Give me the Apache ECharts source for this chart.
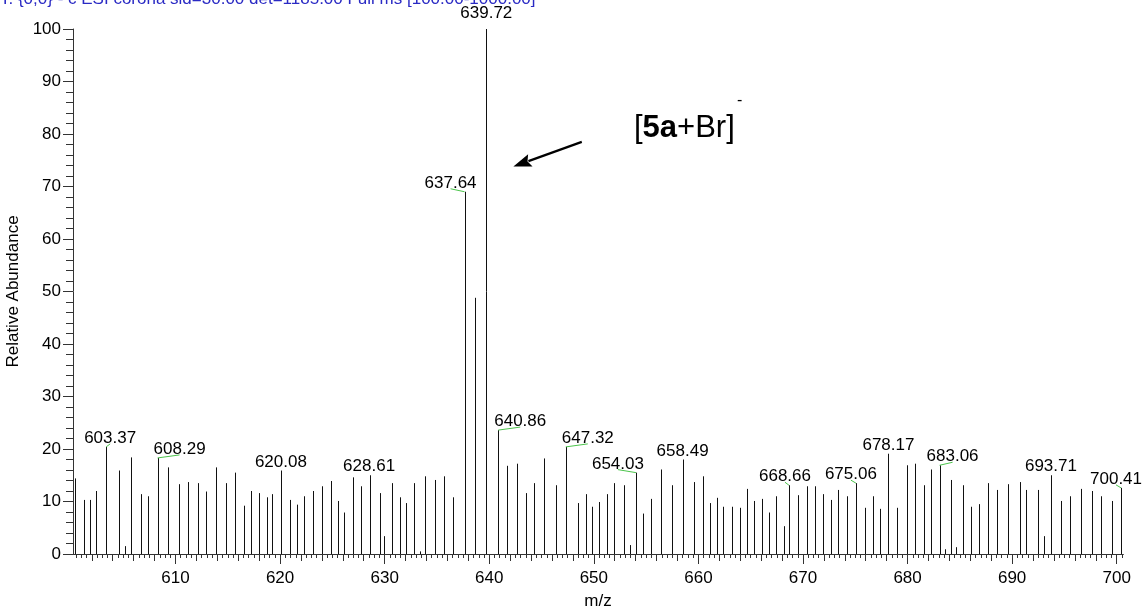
<!DOCTYPE html>
<html>
<head>
<meta charset="utf-8">
<script src="https://cdn.jsdelivr.net/npm/echarts@6/dist/echarts.min.js"></script>
<style>
  html, body { margin: 0; padding: 0; background: #fff; }
  #chart { width: 1143px; height: 607px; }
</style>
</head>
<body>
<div id="chart"></div>
<script>
// Peak centroids (m/z) and their relative abundance (%)
const mz = [
  600.35, 601.21, 601.78, 602.41, 603.37, 604.59, 605.13, 605.73, 606.72, 607.39,
  608.29, 609.30, 610.30, 611.19, 612.11, 612.88, 613.84, 614.79, 615.68, 616.52,
  617.21, 617.95, 618.72, 619.25, 620.08, 620.97, 621.61, 622.28, 623.15, 624.01,
  624.84, 625.51, 626.14, 626.94, 627.71, 628.61, 629.53, 629.94, 630.70, 631.47,
  632.01, 632.84, 633.41, 633.83, 634.82, 635.68, 636.54, 637.64, 638.67, 639.72,
  640.86, 641.68, 642.66, 643.52, 644.29, 645.27, 646.36, 647.32, 648.50, 649.29,
  649.81, 650.48, 651.24, 651.97, 652.93, 653.47, 654.03, 654.74, 655.45, 656.41,
  657.46, 658.49, 659.62, 660.48, 661.12, 661.79, 662.34, 663.20, 663.97, 664.69,
  665.33, 666.10, 666.77, 667.41, 668.17, 668.66, 669.57, 670.43, 671.17, 671.93,
  672.70, 673.34, 674.20, 675.06, 675.95, 676.69, 677.36, 678.17, 678.95, 679.94,
  680.67, 681.53, 682.20, 683.06, 683.58, 684.11, 684.66, 685.33, 686.06, 686.83,
  687.69, 688.55, 689.63, 690.71, 691.35, 692.44, 693.08, 693.71, 694.70, 695.56,
  696.62, 697.60, 698.50, 699.55, 700.41
];
const abundance = [
  14.4, 10.3, 10.3, 12.0, 20.4, 15.9, 1.5, 18.4, 11.4, 11.0,
  18.3, 16.5, 13.3, 13.7, 13.5, 11.9, 16.5, 13.5, 15.5, 9.2,
  12.0, 11.6, 10.8, 11.4, 15.9, 10.3, 9.4, 11.0, 12.0, 12.9,
  13.9, 10.1, 7.9, 14.6, 12.9, 15.0, 11.6, 3.4, 13.5, 10.8,
  9.7, 13.5, 0.5, 14.8, 14.1, 14.8, 10.8, 69.0, 48.8, 100.0,
  23.6, 16.8, 17.2, 11.6, 13.5, 18.2, 13.1, 20.4, 9.7, 11.4,
  9.0, 9.9, 11.4, 13.5, 13.1, 1.7, 15.5, 7.7, 10.5, 16.1,
  13.1, 18.0, 13.7, 14.8, 9.7, 10.7, 9.0, 9.0, 8.8, 12.4,
  10.1, 10.5, 7.9, 11.0, 5.3, 13.1, 11.2, 12.9, 12.9, 11.4,
  10.3, 12.2, 11.0, 13.5, 8.8, 11.0, 8.6, 19.1, 8.8, 16.9,
  17.2, 13.1, 16.1, 16.9, 0.9, 14.1, 1.3, 13.1, 9.0, 9.5,
  13.5, 12.2, 13.3, 13.7, 12.2, 12.2, 3.4, 15.0, 10.1, 11.0,
  12.4, 12.0, 11.0, 10.1, 12.6
];
// Peaks that carry an m/z annotation
const labelledPeaks = [
  603.37, 608.29, 620.08, 628.61, 637.64, 639.72, 640.86, 647.32,
  654.03, 658.49, 668.66, 675.06, 678.17, 683.06, 693.71, 700.41
];
// Axis ticks
const mzTicks = [610, 620, 630, 640, 650, 660, 670, 680, 690, 700];
const abundanceTicks = [0, 10, 20, 30, 40, 50, 60, 70, 80, 90, 100];

const headerText = 'T: {0;0} - c ESI corona sid=30.00 det=1185.00 Full ms [100.00-1000.00]';
const axisMin = 600.2, axisMax = 700.6;

// Layout of the peak annotations: shift (px) of each label from the top of its stick
const labelShift = {
  603.37: [4, 0], 608.29: [22, 0], 628.61: [-1, 0], 637.64: [-14, 0],
  639.72: [0, -7], 640.86: [22, 0], 647.32: [22, 0], 654.03: [-18, 0],
  668.66: [-4, 0], 675.06: [-5, 0], 683.06: [13, 0], 700.41: [-5, 0]
};

const FONT = '"Liberation Sans", Arial, sans-serif';
const AX = '#333';

const midTicks = [];
for (let v = 602; v <= 700; v += 2) if (v % 10 !== 0) midTicks.push(v);
const fineTicks = [];
for (let v = 600.5; v <= 700.5; v += 0.5) if (v % 2 !== 0) fineTicks.push(v);

const peaks = mz.map((m, i) => [m, abundance[i]]);
const labelData = peaks.filter(p => labelledPeaks.indexOf(p[0]) >= 0);

const chart = echarts.init(document.getElementById('chart'), null, { renderer: 'canvas' });

function xAxisLayer(ticks, len, extra) {
  return Object.assign({
    type: 'value', min: axisMin, max: axisMax, position: 'bottom',
    axisLine: { show: true, onZero: false, lineStyle: { color: AX, width: 1 } },
    axisTick: { show: true, inside: false, length: len, customValues: ticks, lineStyle: { color: AX, width: 1 } },
    axisLabel: { show: false },
    splitLine: { show: false }
  }, extra || {});
}

chart.setOption({
  animation: false,
  backgroundColor: '#fff',
  grid: { left: 73, right: 20, top: 29, bottom: 53, containLabel: false, outerBoundsMode: 'none' },
  xAxis: [
    xAxisLayer(mzTicks, 10, {
      axisLabel: { show: true, customValues: mzTicks, margin: 16, fontSize: 17, color: '#000', fontFamily: FONT },
      name: 'm/z', nameLocation: 'middle', nameGap: 39,
      nameTextStyle: { fontSize: 17, color: '#000', fontFamily: FONT }
    }),
    xAxisLayer(midTicks, 7),
    xAxisLayer(fineTicks, 4)
  ],
  yAxis: {
    type: 'value', min: 0, max: 100, interval: 10,
    axisLine: { show: true, lineStyle: { color: AX, width: 1 } },
    axisTick: { show: true, inside: false, length: 10, lineStyle: { color: AX } },
    minorTick: { show: true, splitNumber: 5, length: 7, lineStyle: { color: AX } },
    axisLabel: { margin: 12, fontSize: 17, color: '#000', fontFamily: FONT,
      formatter: v => abundanceTicks.indexOf(v) >= 0 ? String(v) : '' },
    splitLine: { show: false },
    name: 'Relative Abundance', nameLocation: 'middle', nameGap: 40,
    nameTextStyle: { fontSize: 17, color: '#000', fontFamily: FONT }
  },
  series: [
    {
      // centroid sticks
      type: 'custom',
      xAxisIndex: 0,
      data: peaks,
      clip: false,
      renderItem(params, api) {
        const top = api.coord([api.value(0), api.value(1)]);
        const base = api.coord([api.value(0), 0]);
        const x = Math.round(top[0]) + 0.5;
        return {
          type: 'line',
          shape: { x1: x, y1: base[1], x2: x, y2: top[1] },
          style: { stroke: '#111', lineWidth: 1 }
        };
      }
    },
    {
      // m/z annotations with leader lines
      type: 'custom',
      xAxisIndex: 0,
      data: labelData,
      clip: false,
      renderItem(params, api) {
        const m = api.value(0);
        const top = api.coord([m, api.value(1)]);
        const sh = labelShift[m.toFixed(2)] || [0, 0];
        const lx = top[0] + sh[0];
        const ly = top[1] + sh[1];
        const children = [{
          type: 'text',
          style: {
            text: m.toFixed(2), x: lx, y: ly, align: 'center', verticalAlign: 'bottom',
            font: '17px ' + FONT, fill: '#000'
          }
        }];
        if (Math.abs(sh[0]) > 2) {
          children.push({
            type: 'line',
            shape: { x1: top[0], y1: top[1], x2: lx, y2: top[1] - 3 },
            style: { stroke: '#4cc44c', lineWidth: 1 }
          });
        }
        return { type: 'group', children };
      }
    }
  ]
});

// Annotation arrow pointing at the base peak cluster, placed in data space
const tail = chart.convertToPixel({ xAxisIndex: 0, yAxisIndex: 0 }, [648.85, 78.5]);
const tip = chart.convertToPixel({ xAxisIndex: 0, yAxisIndex: 0 }, [642.31, 73.8]);
const dx = tip[0] - tail[0], dy = tip[1] - tail[1];
const len = Math.hypot(dx, dy);
const ux = dx / len, uy = dy / len;
const headLen = 18, headHalf = 6.5;
const bx = tip[0] - ux * headLen, by = tip[1] - uy * headLen;

chart.setOption({
  graphic: [
    {
      type: 'text', x: 0, y: -1,
      style: { text: headerText, font: '17px ' + FONT, fill: '#2a2ac4', verticalAlign: 'middle', align: 'left' }
    },
    {
      type: 'line',
      shape: { x1: tail[0], y1: tail[1], x2: bx + ux * 2, y2: by + uy * 2 },
      style: { stroke: '#000', lineWidth: 2.2 }
    },
    {
      type: 'polygon',
      shape: { points: [
        [tip[0], tip[1]],
        [bx - uy * headHalf, by + ux * headHalf],
        [bx + ux * 3, by + uy * 3],
        [bx + uy * headHalf, by - ux * headHalf]
      ] },
      style: { fill: '#000' }
    },
    {
      type: 'text', x: 634, y: 128,
      style: {
        text: '[{b|5a}+Br]', font: '31px ' + FONT, fill: '#000',
        verticalAlign: 'middle', align: 'left',
        rich: { b: { fontWeight: 'bold', fontSize: 31, fontFamily: FONT } }
      }
    },
    {
      type: 'text', x: 737, y: 101,
      style: { text: '-', font: '16px ' + FONT, fill: '#000', verticalAlign: 'middle', align: 'left' }
    }
  ]
});
</script>
</body>
</html>
